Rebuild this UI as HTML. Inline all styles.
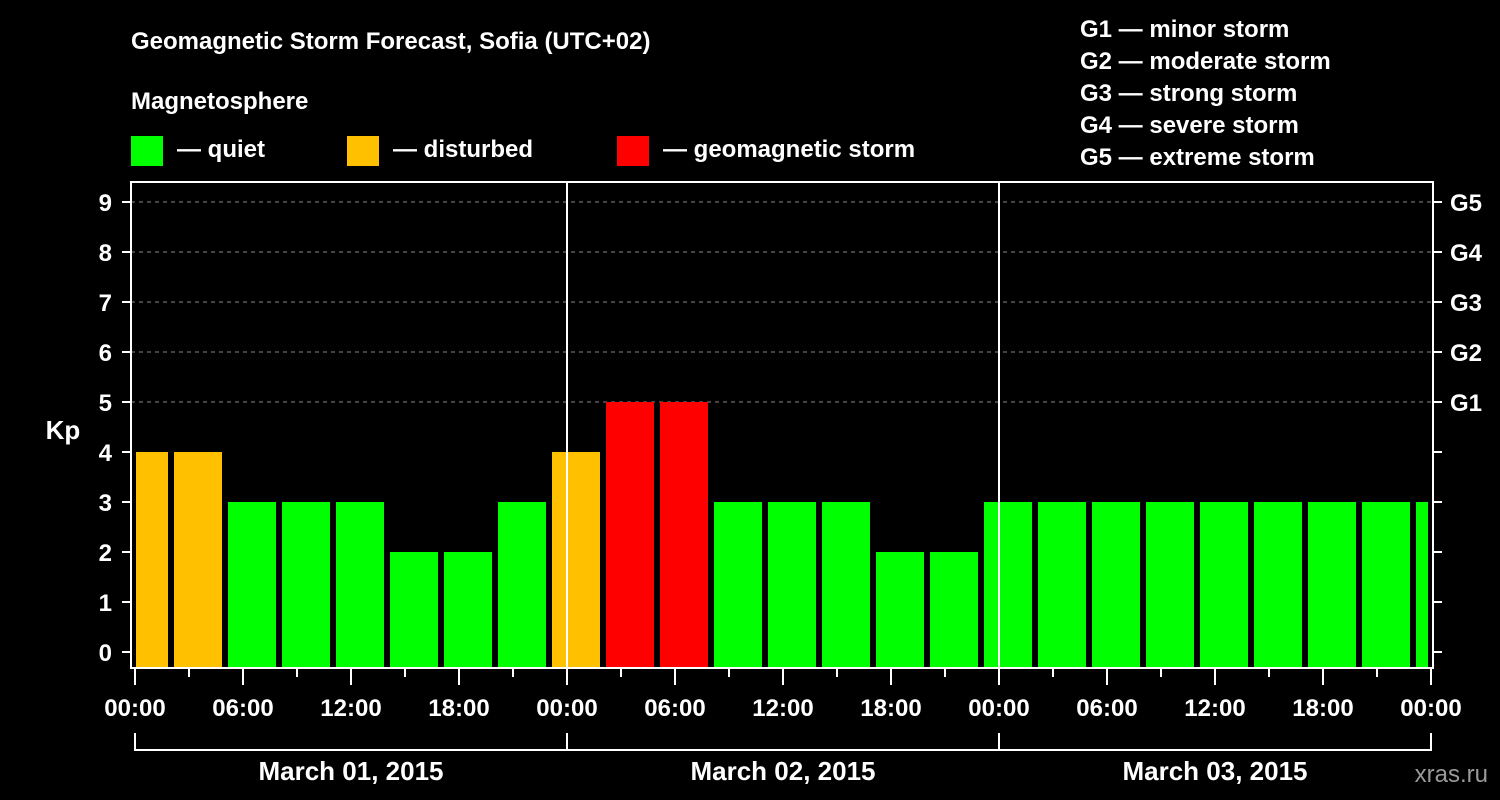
<!DOCTYPE html>
<html><head><meta charset="utf-8"><style>
html,body{margin:0;padding:0;background:#000;}
svg{display:block;}
text{font-family:"Liberation Sans",Arial,sans-serif;font-weight:bold;fill:#fff;}
</style></head><body>
<svg id="chart" width="1500" height="800" viewBox="0 0 1500 800">
<text x="131" y="49" font-size="24">Geomagnetic Storm Forecast, Sofia (UTC+02)</text>
<text x="131" y="109" font-size="24">Magnetosphere</text>
<g><rect x="131" y="136" width="32" height="30" fill="#00ff00"/><text x="177" y="157" font-size="24">— quiet</text></g>
<g><rect x="347" y="136" width="32" height="30" fill="#ffc000"/><text x="393" y="157" font-size="24">— disturbed</text></g>
<g><rect x="617" y="136" width="32" height="30" fill="#ff0000"/><text x="663" y="157" font-size="24">— geomagnetic storm</text></g>
<g font-size="24">
<text x="1080" y="37">G1 — minor storm</text>
<text x="1080" y="69">G2 — moderate storm</text>
<text x="1080" y="101">G3 — strong storm</text>
<text x="1080" y="133">G4 — severe storm</text>
<text x="1080" y="165">G5 — extreme storm</text>
</g>
<text x="63" y="439" font-size="26" text-anchor="middle">Kp</text>
<text x="1488" y="782" font-size="24" text-anchor="end" fill="#aaa" style="fill:#9a9a9a;font-weight:normal">xras.ru</text>
<g id="grid"></g><g id="bars"></g><g id="axes"></g>
</svg>
<script>
const categories=["-1","02","05","08","11","14","17","20","23","02","05","08","11","14","17","20","23","02","05","08","11","14","17","20","23"];
const kp=[4,4,3,3,3,2,2,3,4,5,5,3,3,3,2,2,3,3,3,3,3,3,3,3,3];
const hourTicks=["00:00","06:00","12:00","18:00","00:00","06:00","12:00","18:00","00:00","06:00","12:00","18:00","00:00"];
const dayLabels=["March 01, 2015","March 02, 2015","March 03, 2015"];
const yTicks=[0,1,2,3,4,5,6,7,8,9];
const gLabels=["G1","G2","G3","G4","G5"];
const NS="http://www.w3.org/2000/svg";
const L=131,R=1433,T=182,B=668;
const x=h=>135+h*18; // hours since Mar 1 00:00 local
const y=v=>652-v*50;
function mk(tag,attrs,parent,txt){const e=document.createElementNS(NS,tag);for(const k in attrs)e.setAttribute(k,attrs[k]);if(txt!=null)e.textContent=txt;parent.appendChild(e);return e;}
const grid=document.getElementById('grid'),bars=document.getElementById('bars'),axes=document.getElementById('axes');
for(let v=5;v<=9;v++){const l=mk('line',{x1:L,x2:R,y1:y(v),y2:y(v),stroke:'#888','stroke-dasharray':'4,4','stroke-width':1},grid);

}
const col=v=>v>=5?'#ff0000':(v>=4?'#ffc000':'#00ff00');
kp.forEach((v,i)=>{const h0=-1+3*i;let x0=x(h0)+3,x1=x(h0+3)-3;x0=Math.max(x0,136);x1=Math.min(x1,1428);
const r=mk('rect',{x:x0,y:y(v),width:x1-x0,height:B-y(v),fill:col(v)},bars);

});
// day separators
[24,48].forEach(h=>{const l=mk('line',{x1:x(h),x2:x(h),y1:T,y2:B,stroke:'#fff','stroke-width':2},axes);

});
const fr=mk('rect',{x:L,y:T,width:R-L,height:B-T,fill:'none',stroke:'#fff','stroke-width':2},axes);


yTicks.forEach(v=>{mk('line',{x1:122,x2:L,y1:y(v),y2:y(v),stroke:'#fff','stroke-width':2},axes);
mk('line',{x1:R,x2:1442,y1:y(v),y2:y(v),stroke:'#fff','stroke-width':2},axes);
const t=mk('text',{x:112,y:y(v)+9,'font-size':24,'text-anchor':'end'},axes,String(v));

});
gLabels.forEach((g,i)=>{const t=mk('text',{x:1450,y:y(5+i)+9,'font-size':24},axes,g);

});
for(let h=0;h<=72;h+=3){const major=h%6===0;mk('line',{x1:x(h),x2:x(h),y1:B,y2:major?685:677,stroke:'#fff','stroke-width':2},axes);}
hourTicks.forEach((s,i)=>{const t=mk('text',{x:x(i*6),y:716,'font-size':24,'text-anchor':'middle'},axes,s);

});
mk('polyline',{points:`${x(0)},733 ${x(0)},750 ${x(72)},750 ${x(72)},733`,fill:'none',stroke:'#fff','stroke-width':2},axes);
[24,48].forEach(h=>mk('line',{x1:x(h),x2:x(h),y1:733,y2:750,stroke:'#fff','stroke-width':2},axes));
dayLabels.forEach((d,i)=>{const t=mk('text',{x:x(i*24+12),y:780,'font-size':26,'text-anchor':'middle'},axes,d);

});
</script>
</body></html>
